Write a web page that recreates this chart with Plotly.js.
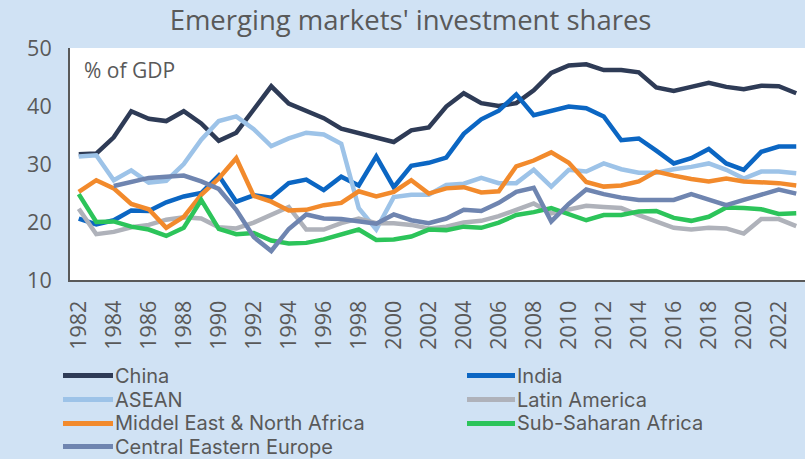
<!DOCTYPE html>
<html>
<head>
<meta charset="utf-8">
<script src="https://cdn.plot.ly/plotly-3.0.1.min.js"></script>
<style>html,body{margin:0;padding:0;background:#d0e2f4;}#chart{width:805px;height:459px;}</style>
</head>
<body>
<div id="chart"></div>
<script>
const years = [];
for (let y = 1982; y <= 2023; y++) years.push(y);
const tickYears = [1982,1984,1986,1988,1990,1992,1994,1996,1998,2000,2002,2004,2006,2008,2010,2012,2014,2016,2018,2020,2022];

const china = [31.7,31.8,34.6,39.1,37.8,37.4,39.1,37.0,34.0,35.4,39.4,43.4,40.4,39.2,37.9,36.1,35.3,34.6,33.8,35.8,36.3,39.9,42.2,40.5,40.0,40.5,42.7,45.7,47.0,47.2,46.2,46.2,45.8,43.2,42.6,43.3,44.0,43.3,42.9,43.5,43.4,42.2];
const india = [20.6,19.6,20.3,22.0,21.9,23.4,24.4,25.0,28.0,23.5,24.6,24.2,26.7,27.3,25.5,27.8,26.3,31.3,26.0,29.7,30.2,31.1,35.2,37.7,39.2,42.0,38.4,39.2,39.9,39.6,38.2,34.1,34.4,32.3,30.1,31.0,32.6,30.1,29.0,32.1,33.0,33.0];
const asean = [31.3,31.5,27.2,28.9,26.8,27.1,30.0,34.2,37.4,38.2,36.0,33.1,34.4,35.4,35.1,33.5,22.4,18.7,24.3,24.7,24.7,26.4,26.6,27.6,26.7,26.7,29.0,26.1,29.0,28.7,30.1,29.1,28.5,28.5,29.1,29.5,30.1,29.0,27.5,28.7,28.7,28.4];
const latam = [22.3,17.9,18.3,19.1,19.5,20.4,20.8,20.6,19.1,18.9,19.9,21.3,22.6,18.7,18.7,19.8,20.6,19.8,19.8,19.5,18.9,19.2,19.9,20.2,21.0,22.1,23.2,21.5,22.1,22.8,22.6,22.4,21.2,20.1,19.0,18.7,19.0,18.9,18.0,20.5,20.5,19.3];
const mena = [25.2,27.2,25.8,23.1,22.2,19.0,20.9,24.7,27.5,31.0,24.5,23.5,22.0,22.1,22.9,23.3,25.3,24.4,25.2,27.2,24.9,25.8,26.0,25.1,25.3,29.6,30.6,32.0,30.2,26.9,26.1,26.3,27.0,28.7,28.0,27.4,27.0,27.5,27.0,26.9,26.7,26.3];
const ssa = [24.8,20.0,20.1,19.2,18.7,17.6,19.0,23.8,18.8,17.9,18.1,16.8,16.3,16.4,17.0,17.8,18.7,16.9,17.0,17.5,18.7,18.6,19.2,19.0,19.9,21.2,21.7,22.4,21.3,20.3,21.2,21.2,21.8,21.9,20.7,20.2,20.9,22.5,22.4,22.2,21.4,21.5];
const cee = [null,null,26.2,27.0,27.6,27.8,28.0,27.0,25.7,22.1,17.4,15.0,18.8,21.3,20.6,20.5,20.1,19.7,21.3,20.3,19.8,20.6,22.1,21.9,23.3,25.2,25.9,20.1,23.1,25.6,24.8,24.2,23.8,23.8,23.8,24.8,23.8,22.9,23.8,24.7,25.6,24.9];

const seriesNames = ["China","India","ASEAN","Latin America","Middel East & North Africa","Sub-Saharan Africa","Central Eastern Europe"];
const seriesValues = [china, india, asean, latam, mena, ssa, cee];
const seriesColors = ["#2e3b56","#0b66c3","#9dc3e8","#afb2ba","#f28a2c","#2cc45a","#6f85b0"];

const traces = seriesNames.map((n, i) => ({
  type: "scatter", mode: "lines", name: n, x: years, y: seriesValues[i],
  line: {color: seriesColors[i], width: 4.5}, connectgaps: false, showlegend: false
}));

const txt = "#595959";
const FONT = "'Open Sans', 'Noto Sans', sans-serif";
const LEGFONT = "Inter, 'Open Sans', sans-serif";

// Manual two-column legend (row-major order like the reference)
const W = 735, H = 232, L = 70, T = 48;
const px2x = p => (p - L) / W;
const py2y = p => (T + H - p) / H;
const colLine = [[63, 113], [467, 515]];
const colText = [114, 516];
const rowY = [375.5, 399.5, 423.5, 446.5];
const shapes = [], annotations = [];
seriesNames.forEach((n, i) => {
  const c = i % 2, r = Math.floor(i / 2);
  shapes.push({type: "line", xref: "paper", yref: "paper",
    x0: px2x(colLine[c][0]), x1: px2x(colLine[c][1]), y0: py2y(rowY[r]), y1: py2y(rowY[r]),
    line: {color: seriesColors[i], width: 5}});
  annotations.push({text: n, xref: "paper", yref: "paper", x: px2x(colText[c]), y: py2y(rowY[r]),
    xanchor: "left", yanchor: "middle", showarrow: false, borderpad: 0,
    font: {size: 20, color: txt, family: LEGFONT}});
});
annotations.push({text: "% of GDP", xref: "paper", yref: "paper", x: px2x(82), y: py2y(70),
  xanchor: "left", yanchor: "middle", showarrow: false, font: {size: 21, color: txt, family: FONT}});

const layout = {
  width: 805, height: 459,
  paper_bgcolor: "#d0e2f4", plot_bgcolor: "#ffffff",
  font: {family: FONT, color: txt},
  margin: {l: 70, r: 0, t: 48, b: 179, autoexpand: false},
  showlegend: false,
  title: {text: "Emerging markets' investment shares", font: {size: 27.5, color: txt, family: FONT},
          x: 0.51, xref: "container", xanchor: "center", y: 0.956, yref: "container", yanchor: "middle"},
  xaxis: {range: [1981.5, 2023.5], tickvals: tickYears, ticktext: tickYears.map(String), tickangle: -90,
          showgrid: false, zeroline: false, showline: true, linecolor: "#595959", linewidth: 2,
          ticks: "", ticklabelstandoff: 10, tickfont: {size: 21.5, color: txt}},
  yaxis: {range: [10, 50], dtick: 10, showgrid: false, zeroline: false, showline: true,
          linecolor: "#595959", linewidth: 2, ticks: "", ticklabelstandoff: 12,
          tickfont: {size: 21.5, color: txt}},
  shapes: shapes,
  annotations: annotations
};

Plotly.newPlot("chart", traces, layout, {displayModeBar: false, staticPlot: true});
</script>
</body>
</html>
